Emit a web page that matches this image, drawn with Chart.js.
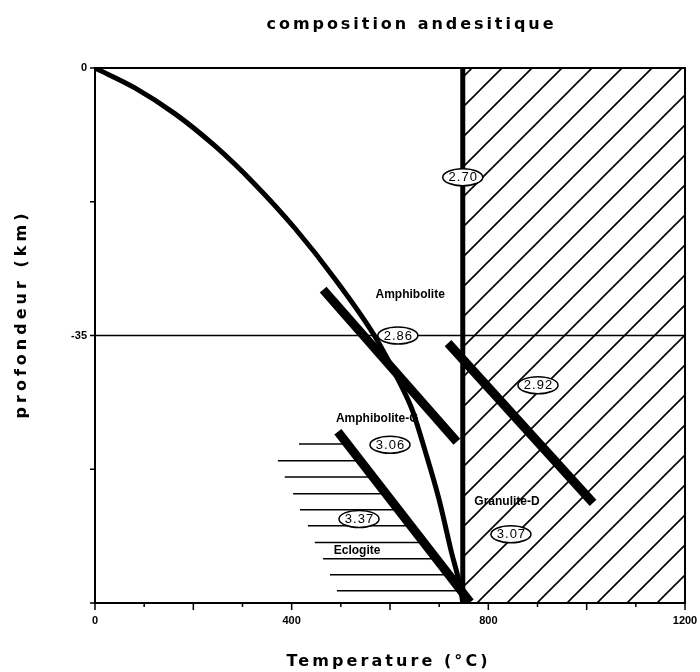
<!DOCTYPE html>
<html>
<head>
<meta charset="utf-8">
<script src="https://cdn.jsdelivr.net/npm/chart.js@4"></script>
<style>
  html, body { margin: 0; padding: 0; background: #fff; }
  canvas { display: block; }
</style>
</head>
<body>
<canvas id="chart" width="700" height="672"></canvas>
<script>
// geotherme (temperature en °C, profondeur en km)
const geothermT = [0, 81, 163, 244, 325, 407, 488, 570, 620, 645, 671, 700, 724, 744, 748];
const geothermZ = [0, -2.6, -6.0, -10.2, -15.2, -21.0, -27.6, -35.2, -41.2, -44.7, -50, -56.5, -63.1, -68.3, -70];

// solidus vertical + zone hachuree a droite
const solidusT = [748, 748];
const solidusZ = [0, -70];
const hatchT = [748, 1200];
const hatchZ = [0, 0];

// ligne -35 km
const mohoT = [0, 1200];
const mohoZ = [-35, -35];

// reactions (barres epaisses)
const amphT = [464, 736];
const amphZ = [-29, -48.9];
const eclT = [494, 763];
const eclZ = [-47.6, -69.9];
const granT = [718, 1013];
const granZ = [-36, -56.9];

// hachures horizontales du domaine eclogite
const eclHatchZ = [-49.2, -51.4, -53.5, -55.7, -57.8, -59.9, -62.1, -64.2, -66.3, -68.4];
const eclHatchStart = [415, 372, 386, 403, 417, 433, 447, 464, 478, 492];
const eclHatchEnd = [513, 540, 565, 592, 617, 642, 669, 694, 720, 745];

// densites
const densityLabels = ['2.70', '2.86', '2.92', '3.06', '3.37', '3.07'];
const densityT = [748, 616, 901, 600, 537, 846];
const densityZ = [-14.3, -35, -41.5, -49.3, -59, -61];

// noms des domaines
const fieldNames = ['Amphibolite', 'Amphibolite-G', 'Granulite-D', 'Eclogite'];
const fieldT = [641, 574, 838, 533];
const fieldZ = [-29.7, -45.9, -56.8, -63.1];

const xLabels = [0, 400, 800, 1200];
const yLabels = [0, -35];

const pts = (xs, ys) => xs.map((x, i) => ({ x: x, y: ys[i] }));

const canvas = document.getElementById('chart');
const ctx = canvas.getContext('2d');

function makeHatch() {
  const s = 30;
  const c = document.createElement('canvas');
  c.width = s; c.height = s;
  const g = c.getContext('2d');
  g.strokeStyle = '#000';
  g.lineWidth = 1.6;
  g.beginPath();
  g.moveTo(-2, s + 2); g.lineTo(s + 2, -2);
  g.moveTo(-2, 2); g.lineTo(2, -2);
  g.moveTo(s - 2, s + 2); g.lineTo(s + 2, s - 2);
  g.stroke();
  return ctx.createPattern(c, 'repeat');
}

function line(data, width, extra) {
  return Object.assign({
    data: data,
    borderColor: '#000',
    borderWidth: width,
    borderCapStyle: 'butt',
    pointRadius: 0,
    fill: false,
    tension: 0
  }, extra || {});
}

const datasets = [
  line(pts(hatchT, hatchZ), 0, { fill: 'start', backgroundColor: makeHatch() }),
  line(pts(mohoT, mohoZ), 1.5)
];
eclHatchZ.forEach((z, i) => {
  datasets.push(line([{ x: eclHatchStart[i], y: z }, { x: eclHatchEnd[i], y: z }], 1.5));
});
datasets.push(line(pts(geothermT, geothermZ), 5, { cubicInterpolationMode: 'monotone' }));
datasets.push(line(pts(solidusT, solidusZ), 5));
datasets.push(line(pts(amphT, amphZ), 9));
datasets.push(line(pts(eclT, eclZ), 9));
datasets.push(line(pts(granT, granZ), 9));

function spacedText(c, text, x, y, width) {
  c.letterSpacing = '0px';
  const w = c.measureText(text).width;
  const sp = (width - w) / (text.length - 1);
  c.letterSpacing = sp + 'px';
  c.textAlign = 'left';
  c.fillText(text, x - width / 2, y);
  c.letterSpacing = '0px';
}

const decor = {
  id: 'decor',
  afterDatasetsDraw(chart) {
    const c = chart.ctx;
    const a = chart.chartArea;
    const xs = chart.scales.x;
    const ys = chart.scales.y;
    c.save();

    // cadre
    c.strokeStyle = '#000';
    c.lineWidth = 2;
    c.strokeRect(a.left, a.top, a.right - a.left, a.bottom - a.top);

    // graduations
    c.lineWidth = 1.5;
    c.beginPath();
    for (let t = 0; t <= 1200; t += 100) {
      const px = xs.getPixelForValue(t);
      c.moveTo(px, a.bottom);
      c.lineTo(px, a.bottom + (t % 200 === 0 ? 7 : 4));
    }
    for (let z = 0; z >= -70; z -= 17.5) {
      const py = ys.getPixelForValue(z);
      c.moveTo(a.left, py);
      c.lineTo(a.left - 5, py);
    }
    c.stroke();

    // densites dans des ellipses
    c.font = '13px "Liberation Sans", Arial, sans-serif';
    c.textBaseline = 'middle';
    densityLabels.forEach((lab, i) => {
      const px = xs.getPixelForValue(densityT[i]);
      const py = ys.getPixelForValue(densityZ[i]);
      c.beginPath();
      c.ellipse(px, py, 20, 8.5, 0, 0, Math.PI * 2);
      c.fillStyle = '#fff';
      c.fill();
      c.lineWidth = 1.5;
      c.stroke();
      c.fillStyle = '#000';
      c.letterSpacing = '1px';
      c.textAlign = 'center';
      c.fillText(lab, px + 0.5, py + 0.5);
      c.letterSpacing = '0px';
    });

    // noms des domaines
    c.font = 'bold 12px "Liberation Sans", Arial, sans-serif';
    c.textAlign = 'center';
    fieldNames.forEach((name, i) => {
      const px = xs.getPixelForValue(fieldT[i]);
      const py = ys.getPixelForValue(fieldZ[i]);
      c.fillText(name, px, py);
    });

    // titres
    c.font = 'bold 16px "DejaVu Sans", sans-serif';
    c.textBaseline = 'middle';
    spacedText(c, 'composition andesitique', 410, 25, 287);
    spacedText(c, 'Temperature (°C)', 387, 662, 201);
    c.save();
    c.translate(22, 316);
    c.rotate(-Math.PI / 2);
    spacedText(c, 'profondeur (km)', 0, 0, 205);
    c.restore();

    c.restore();
  }
};

new Chart(ctx, {
  type: 'line',
  data: { datasets: datasets },
  options: {
    responsive: false,
    animation: false,
    devicePixelRatio: 1,
    layout: { padding: { left: 0, right: 15, top: 68, bottom: 0 } },
    plugins: { legend: { display: false }, tooltip: { enabled: false } },
    scales: {
      x: {
        type: 'linear',
        min: 0,
        max: 1200,
        grid: { display: false, drawTicks: false },
        border: { display: false },
        ticks: {
          stepSize: 100,
          autoSkip: false,
          maxRotation: 0,
          padding: 11,
          color: '#000',
          font: { family: '"Liberation Sans", Arial, sans-serif', size: 11, weight: 'bold' },
          callback: v => xLabels.includes(v) ? String(v) : ''
        },
        afterFit: s => { s.height = 69; s.paddingLeft = 0; s.paddingRight = 0; }
      },
      y: {
        type: 'linear',
        min: -70,
        max: 0,
        grid: { display: false, drawTicks: false },
        border: { display: false },
        ticks: {
          stepSize: 17.5,
          autoSkip: false,
          padding: 8,
          color: '#000',
          font: { family: '"Liberation Sans", Arial, sans-serif', size: 11, weight: 'bold' },
          callback: v => yLabels.includes(v) ? String(v) : ''
        },
        afterFit: s => { s.width = 95; s.paddingTop = 0; s.paddingBottom = 0; }
      }
    }
  },
  plugins: [decor]
});
</script>
</body>
</html>
